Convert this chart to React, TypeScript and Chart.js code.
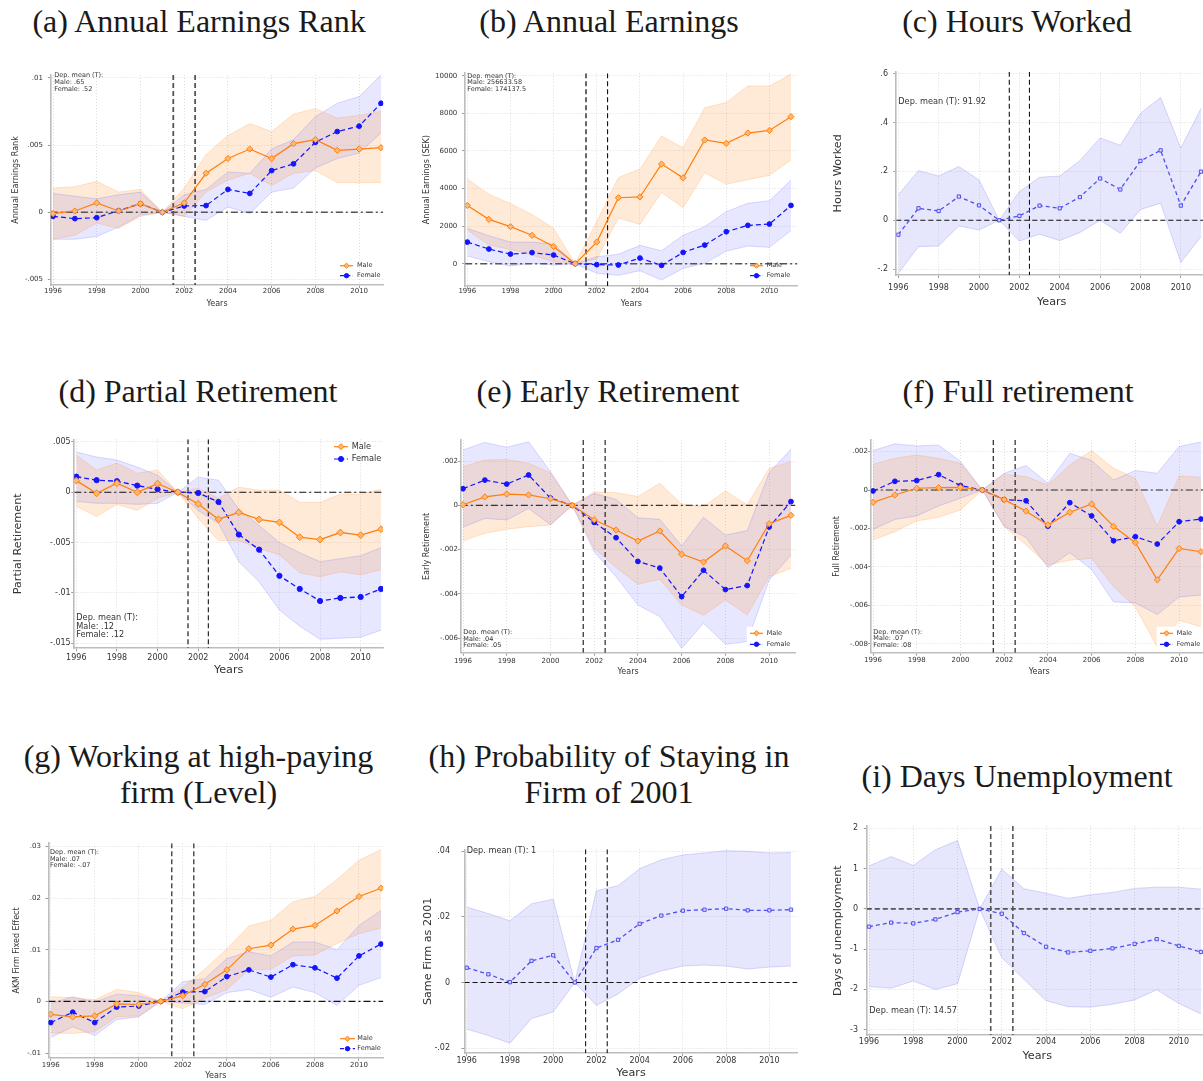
import React, { useEffect, useRef } from "react";
import { Chart, registerables } from "chart.js";

Chart.register(...registerables);
Chart.defaults.font.family = "'DejaVu Sans', sans-serif";

// ---------- shared axes ----------
const YEARS = [1996, 1997, 1998, 1999, 2000, 2001, 2002, 2003, 2004, 2005, 2006, 2007, 2008, 2009, 2010, 2011];
const YEAR_TICKS = [1996, 1998, 2000, 2002, 2004, 2006, 2008, 2010];
const REFORM_LINES = [2001.5, 2002.5];
const X_MIN = 1995.9;

// ---------- (a) Annual earnings rank ----------
const rankMale = [-0.0001, 0.0001, 0.0007, 0.0001, 0.00064, 0, 0.0007, 0.0029, 0.004, 0.0047, 0.004, 0.0051, 0.0054, 0.0046, 0.0047, 0.0048];
const rankMaleHi = [0.0018, 0.0019, 0.0023, 0.0015, 0.0017, 0, 0.0018, 0.0043, 0.0057, 0.0066, 0.006, 0.0073, 0.0077, 0.007, 0.0072, 0.0075];
const rankMaleLo = [-0.002, -0.0017, -0.0008, -0.0012, -0.0003, 0, -0.0003, 0.0015, 0.0024, 0.0029, 0.002, 0.0029, 0.0031, 0.0022, 0.0022, 0.0022];
const rankFemale = [-0.0003, -0.00047, -0.0004, 0.00012, 0.00064, 0, 0.00047, 0.0005, 0.0017, 0.0014, 0.0031, 0.0036, 0.0052, 0.006, 0.0064, 0.0081];
const rankFemaleHi = [0.0014, 0.0012, 0.001, 0.0013, 0.0015, 0, 0.0013, 0.0017, 0.003, 0.0029, 0.0047, 0.0054, 0.0071, 0.0081, 0.0086, 0.0102];
const rankFemaleLo = [-0.002, -0.002, -0.0018, -0.0011, -0.0002, 0, -0.0003, -0.0006, 0.0004, -0.0001, 0.0015, 0.0018, 0.0033, 0.004, 0.0044, 0.0059];
const rankTicks = [-0.005, 0, 0.005, 0.01];
const rankTickLabels = ["-.005", "0", ".005", ".01"];

// ---------- (b) Annual earnings (SEK) ----------
const earnMale = [3100, 2360, 1970, 1510, 920, 0, 1150, 3510, 3550, 5300, 4570, 6580, 6400, 6950, 7090, 7820];
const earnMaleHi = [4500, 3700, 3200, 2620, 1880, 0, 2250, 4590, 5040, 6790, 6170, 8300, 8580, 9450, 9450, 10090];
const earnMaleLo = [1790, 990, 760, 460, 100, 0, 250, 2430, 2090, 3790, 2980, 4840, 4220, 4470, 4700, 5510];
const earnFemale = [1150, 780, 510, 590, 460, 0, -50, -70, 300, -90, 600, 990, 1700, 2040, 2110, 3100];
const earnFemaleHi = [1880, 1490, 1150, 1150, 1030, 0, 370, 500, 975, 690, 1510, 1970, 2770, 3210, 3350, 4450];
const earnFemaleLo = [410, 110, -120, 20, -70, 0, -510, -620, -370, -870, -250, 20, 670, 940, 870, 1760];
const earnTicks = [0, 2000, 4000, 6000, 8000, 10000];
const earnTickLabels = ["0", "2000", "4000", "6000", "8000", "10000"];

// ---------- (c) Hours worked ----------
const hoursPoint = [-0.059, 0.049, 0.038, 0.097, 0.061, 0, 0.018, 0.06, 0.049, 0.095, 0.171, 0.126, 0.243, 0.286, 0.06, 0.199];
const hoursHi = [0.104, 0.203, 0.181, 0.22, 0.165, 0, 0.117, 0.176, 0.181, 0.244, 0.337, 0.307, 0.438, 0.502, 0.295, 0.458];
const hoursLo = [-0.217, -0.108, -0.105, -0.023, -0.04, 0, -0.085, -0.057, -0.083, -0.05, 0.0, -0.053, 0.044, 0.07, -0.173, -0.067];
const hoursTicks = [-0.2, 0, 0.2, 0.4, 0.6];
const hoursTickLabels = ["-.2", "0", ".2", ".4", ".6"];

// ---------- (d) Partial retirement ----------
const partialMale = [0.00116, -0.0001, 0.0009, 0.0, 0.00086, 0, -0.00116, -0.00268, -0.002, -0.0027, -0.003, -0.00446, -0.0047, -0.004, -0.00426, -0.00367];
const partialMaleHi = [0.0037, 0.0022, 0.0029, 0.0019, 0.0022, 0, 0.0004, -0.0006, 0.0005, 0.0002, 0.0002, -0.001, -0.001, -0.0002, -0.0002, 0.0003];
const partialMaleLo = [-0.0014, -0.0024, -0.0012, -0.0018, -0.0006, 0, -0.0026, -0.0048, -0.0048, -0.0056, -0.0062, -0.008, -0.0084, -0.0079, -0.0082, -0.0077];
const partialFemale = [0.00155, 0.0012, 0.0011, 0.00066, 0.0003, 0, -0.00007, -0.00096, -0.0042, -0.0057, -0.0083, -0.0096, -0.0108, -0.0105, -0.0104, -0.0096];
const partialFemaleHi = [0.004, 0.0035, 0.0032, 0.0025, 0.0017, 0, 0.0015, 0.0012, -0.0017, -0.0033, -0.005, -0.006, -0.0069, -0.0066, -0.0063, -0.0055];
const partialFemaleLo = [-0.0009, -0.0011, -0.0011, -0.0012, -0.0011, 0, -0.0018, -0.0031, -0.0069, -0.0089, -0.0117, -0.0133, -0.0146, -0.0145, -0.0144, -0.0137];
const partialTicks = [-0.015, -0.01, -0.005, 0, 0.005];
const partialTickLabels = ["-.015", "-.01", "-.005", "0", ".005"];

// ---------- (e) Early retirement ----------
const earlyMale = [0.00003, 0.00038, 0.00051, 0.00047, 0.0003, 0, -0.00065, -0.00111, -0.00161, -0.00116, -0.0022, -0.00256, -0.00183, -0.0025, -0.00083, -0.00045];
const earlyMaleHi = [0.00174, 0.00205, 0.00207, 0.0019, 0.00147, 0, 0.0006, 0.00057, 0.0004, 0.001, 0.00006, -0.00006, 0.00065, 0.00002, 0.00167, 0.00197];
const earlyMaleLo = [-0.0016, -0.00126, -0.00108, -0.00096, -0.00089, 0, -0.00194, -0.0028, -0.00356, -0.00334, -0.0045, -0.00496, -0.00427, -0.00495, -0.00322, -0.00284];
const earlyFemale = [0.00075, 0.00114, 0.00096, 0.00137, 0.00033, 0, -0.00077, -0.00146, -0.00253, -0.00283, -0.00412, -0.00293, -0.0038, -0.00362, -0.00098, 0.00017];
const earlyFemaleHi = [0.0025, 0.00284, 0.00262, 0.00287, 0.00152, 0, 0.00054, 0.00027, -0.00056, -0.00063, -0.00183, -0.00054, -0.00134, -0.00114, 0.00147, 0.00254];
const earlyFemaleLo = [-0.00099, -0.00059, -0.00066, -0.00014, -0.00087, 0, -0.00209, -0.00322, -0.0045, -0.00502, -0.00645, -0.00532, -0.00627, -0.00615, -0.00337, -0.00224];
const earlyTicks = [-0.006, -0.004, -0.002, 0, 0.002];
const earlyTickLabels = ["-.006", "-.004", "-.002", "0", ".002"];

// ---------- (f) Full retirement ----------
const fullMale = [-0.00064, -0.00026, 0.00009, 0.00012, 0.00014, 0, -0.0005, -0.0011, -0.00182, -0.00116, -0.00073, -0.00189, -0.00274, -0.00467, -0.00304, -0.00321];
const fullMaleHi = [0.00134, 0.00165, 0.00182, 0.00165, 0.00139, 0, 0.00082, 0.0007, 0.00026, 0.0013, 0.00205, 0.00113, 0.00061, -0.00187, 0.00073, 0.00066];
const fullMaleLo = [-0.0026, -0.00217, -0.00161, -0.00142, -0.00104, 0, -0.00191, -0.00286, -0.0039, -0.00365, -0.00356, -0.00503, -0.00608, -0.00816, -0.00677, -0.00712];
const fullFemale = [-0.00005, 0.00045, 0.00049, 0.0008, 0.00023, 0, -0.0005, -0.00056, -0.00188, -0.00066, -0.00135, -0.00264, -0.00243, -0.00281, -0.00165, -0.00151];
const fullFemaleHi = [0.00205, 0.0024, 0.00229, 0.00234, 0.00148, 0, 0.00087, 0.00127, 0.00035, 0.00191, 0.00153, 0.00052, 0.00101, 0.00087, 0.00226, 0.0025];
const fullFemaleLo = [-0.00205, -0.00153, -0.00135, -0.00083, -0.00043, 0, -0.00188, -0.00247, -0.00403, -0.00326, -0.00413, -0.00582, -0.00587, -0.00648, -0.00556, -0.00547];
const fullTicks = [-0.008, -0.006, -0.004, -0.002, 0, 0.002];
const fullTickLabels = ["-.008", "-.006", "-.004", "-.002", "0", ".002"];

// ---------- (g) AKM firm fixed effect ----------
const akmMale = [-0.0025, -0.003, -0.0028, -0.0005, -0.0006, 0, 0.0011, 0.0033, 0.0061, 0.0102, 0.0109, 0.014, 0.0147, 0.0175, 0.0203, 0.0219];
const akmMaleHi = [0.0009, 0.0007, 0.0003, 0.0023, 0.0017, 0, 0.0028, 0.0062, 0.0102, 0.0146, 0.0157, 0.0193, 0.0203, 0.0236, 0.0273, 0.0294];
const akmMaleLo = [-0.0061, -0.0062, -0.0059, -0.003, -0.0028, 0, -0.0014, 0.0006, 0.0023, 0.0061, 0.0062, 0.0088, 0.009, 0.0112, 0.0131, 0.0142];
const akmFemale = [-0.0041, -0.0021, -0.0041, -0.0011, -0.0009, 0, 0.0018, 0.0019, 0.0048, 0.0061, 0.0047, 0.0071, 0.0065, 0.0045, 0.0088, 0.0111];
const akmFemaleHi = [-0.0004, 0.0009, -0.0001, 0.0014, 0.0011, 0, 0.0038, 0.0044, 0.0083, 0.0096, 0.0088, 0.0115, 0.0115, 0.01, 0.0147, 0.0176];
const akmFemaleLo = [-0.007, -0.0049, -0.0066, -0.0035, -0.003, 0, -0.0003, -0.0006, 0.0017, 0.0023, 0.0008, 0.0028, 0.0017, -0.0008, 0.0031, 0.0046];
const akmTicks = [-0.01, 0, 0.01, 0.02, 0.03];
const akmTickLabels = ["-.01", "0", ".01", ".02", ".03"];

// ---------- (h) Same firm as 2001 ----------
const stayPoint = [0.0045, 0.0025, 0.0001, 0.0066, 0.0083, 0, 0.0105, 0.013, 0.0179, 0.0204, 0.0219, 0.0222, 0.0225, 0.022, 0.022, 0.0222];
const stayHi = [0.023, 0.021, 0.0188, 0.024, 0.0254, 0, 0.028, 0.0295, 0.0347, 0.0374, 0.0389, 0.0395, 0.0402, 0.04, 0.0395, 0.0396];
const stayLo = [-0.0142, -0.0162, -0.0185, -0.011, -0.009, 0, -0.007, -0.0035, 0.0013, 0.0035, 0.005, 0.0053, 0.005, 0.0041, 0.0047, 0.005];
const stayTicks = [-0.02, 0, 0.02, 0.04];
const stayTickLabels = ["-.02", "0", ".02", ".04"];

// ---------- (i) Days of unemployment ----------
const unempPoint = [-0.44, -0.34, -0.36, -0.26, -0.08, 0, -0.12, -0.6, -0.94, -1.08, -1.04, -0.98, -0.87, -0.75, -0.92, -1.07];
const unempHi = [1.07, 1.3, 1.08, 1.47, 1.7, 0, 0.99, 0.5, 0.39, 0.26, 0.35, 0.41, 0.51, 0.54, 0.54, 0.49];
const unempLo = [-1.93, -1.97, -1.79, -2.0, -1.86, 0, -1.21, -1.75, -2.28, -2.43, -2.44, -2.37, -2.26, -2.01, -2.35, -2.61];
const unempTicks = [-3, -2, -1, 0, 1, 2];
const unempTickLabels = ["-3", "-2", "-1", "0", "1", "2"];

// ---------- styling ----------
type Kind = "male" | "female" | "single";
interface Series { label: string; kind: Kind; mid: number[]; hi: number[]; lo: number[]; }
interface RefStyle { color: string; width: number; dash: number[]; }
interface Panel {
  title: string[]; titleCx: number; titleBase: number; big: boolean;
  x96: number; x11: number; xMax: number; top: number; bottom: number;
  yMin: number; yMax: number; yTicks: number[]; yLabels: string[];
  yTitle: string; yTitleCx: number; yTickRight: number; xTickCy: number; xTitleCy: number;
  series: Series[]; zero: RefStyle; vlines: RefStyle[];
  note: { lines: string[]; x: number; y: number; step: number };
  legend?: { x: number; y: number; step: number; len: number; textX: number; box?: number[] };
}

const KIND_STYLE: Record<Kind, { line: string; band: string; edge: string; dash: number[]; point: string; fill: string }> = {
  male: { line: "#ff7f0e", band: "rgba(255,127,14,0.16)", edge: "rgba(255,150,60,0.3)", dash: [], point: "rectRot", fill: "#ffb870" },
  female: { line: "#1414ff", band: "rgba(70,70,255,0.13)", edge: "rgba(110,110,255,0.3)", dash: [5, 3], point: "circle", fill: "#1414ff" },
  single: { line: "#5050ee", band: "rgba(100,100,240,0.16)", edge: "rgba(120,120,240,0.35)", dash: [4, 3], point: "rect", fill: "#d8d8ff" },
};

const SIZES = {
  small: { tick: 7, axisTitle: 8, note: 6.5 },
  big: { tick: 8, axisTitle: 11.2, note: 8.2 },
};

const DASHDOT = [7, 3, 2, 3];
const DASHED = [5, 3];

const sexSeries = (mid: number[], hi: number[], lo: number[], fmid: number[], fhi: number[], flo: number[]): Series[] => [
  { label: "Male", kind: "male", mid, hi, lo },
  { label: "Female", kind: "female", mid: fmid, hi: fhi, lo: flo },
];

const PANELS: Panel[] = [
  {
    title: ["(a) Annual Earnings Rank"], titleCx: 199, titleBase: 32.3, big: false,
    x96: 53, x11: 381, xMax: 2011.1, top: 75, bottom: 285, yMin: -0.0054, yMax: 0.0102,
    yTicks: rankTicks, yLabels: rankTickLabels, yTitle: "Annual Earnings Rank", yTitleCx: 16, yTickRight: 43,
    xTickCy: 291, xTitleCy: 304,
    series: sexSeries(rankMale, rankMaleHi, rankMaleLo, rankFemale, rankFemaleHi, rankFemaleLo),
    zero: { color: "#555", width: 1.5, dash: DASHDOT },
    vlines: [{ color: "#555", width: 1.8, dash: DASHED }, { color: "#555", width: 1.8, dash: DASHED }],
    note: { lines: ["Dep. mean (T):", "Male: .65", "Female: .52"], x: 54.3, y: 75.7, step: 6.8 },
    legend: { x: 340, y: 265.7, step: 10, len: 13, textX: 357 },
  },
  {
    title: ["(b) Annual Earnings"], titleCx: 609, titleBase: 32.3, big: false,
    x96: 467.3, x11: 791, xMax: 2011.3, top: 73.3, bottom: 286, yMin: -1186, yMax: 10128,
    yTicks: earnTicks, yLabels: earnTickLabels, yTitle: "Annual Earnings (SEK)", yTitleCx: 426.7, yTickRight: 457.3,
    xTickCy: 291, xTitleCy: 304.3,
    series: sexSeries(earnMale, earnMaleHi, earnMaleLo, earnFemale, earnFemaleHi, earnFemaleLo),
    zero: { color: "#555", width: 1.5, dash: DASHDOT },
    vlines: [{ color: "#555", width: 1.8, dash: DASHED }, { color: "#111", width: 1.1, dash: DASHED }],
    note: { lines: ["Dep. mean (T):", "Male: 256633.58", "Female: 174137.5"], x: 467.3, y: 76, step: 6.7 },
    legend: { x: 750, y: 265.7, step: 10, len: 13, textX: 766.7 },
  },
  {
    title: ["(c) Hours Worked"], titleCx: 1017, titleBase: 32.3, big: true,
    x96: 898.3, x11: 1201, xMax: 2011.3, top: 71.7, bottom: 275, yMin: -0.224, yMax: 0.608,
    yTicks: hoursTicks, yLabels: hoursTickLabels, yTitle: "Hours Worked", yTitleCx: 838, yTickRight: 888,
    xTickCy: 288, xTitleCy: 302,
    series: [{ label: "", kind: "single", mid: hoursPoint, hi: hoursHi, lo: hoursLo }],
    zero: { color: "#111", width: 1.1, dash: DASHED },
    vlines: [{ color: "#111", width: 1.1, dash: DASHED }, { color: "#111", width: 1.1, dash: DASHED }],
    note: { lines: ["Dep. mean (T): 91.92"], x: 898.3, y: 102.3, step: 0 },
  },
  {
    title: ["(d) Partial Retirement"], titleCx: 198, titleBase: 402.3, big: true,
    x96: 76.3, x11: 381, xMax: 2011.1, top: 439.3, bottom: 648.3, yMin: -0.0155, yMax: 0.00526,
    yTicks: partialTicks, yLabels: partialTickLabels, yTitle: "Partial Retirement", yTitleCx: 18, yTickRight: 70.7,
    xTickCy: 657.7, xTitleCy: 670,
    series: sexSeries(partialMale, partialMaleHi, partialMaleLo, partialFemale, partialFemaleHi, partialFemaleLo),
    zero: { color: "#111", width: 1.1, dash: DASHDOT },
    vlines: [{ color: "#555", width: 1.6, dash: DASHED }, { color: "#111", width: 1.1, dash: DASHED }],
    note: { lines: ["Dep. mean (T):", "Male: .12", "Female: .12"], x: 76.3, y: 617.7, step: 8.7 },
    legend: { x: 334, y: 446.7, step: 12.3, len: 14, textX: 351.7 },
  },
  {
    title: ["(e) Early Retirement"], titleCx: 608, titleBase: 402.3, big: false,
    x96: 463, x11: 791, xMax: 2011.2, top: 440, bottom: 652.7, yMin: -0.00665, yMax: 0.00295,
    yTicks: earlyTicks, yLabels: earlyTickLabels, yTitle: "Early Retirement", yTitleCx: 427, yTickRight: 458,
    xTickCy: 660.7, xTitleCy: 671.7,
    series: sexSeries(earlyMale, earlyMaleHi, earlyMaleLo, earlyFemale, earlyFemaleHi, earlyFemaleLo),
    zero: { color: "#333", width: 1.2, dash: DASHDOT },
    vlines: [{ color: "#444", width: 1.4, dash: DASHED }, { color: "#111", width: 1.1, dash: DASHED }],
    note: { lines: ["Dep. mean (T):", "Male: .04", "Female: .05"], x: 463.3, y: 632.3, step: 6.7 },
    legend: { x: 750, y: 633.3, step: 11, len: 13, textX: 766.7, box: [746.7, 626.7, 795, 650] },
  },
  {
    title: ["(f) Full retirement"], titleCx: 1018, titleBase: 402.3, big: false,
    x96: 873, x11: 1201, xMax: 2011.3, top: 440, bottom: 652.7, yMin: -0.00846, yMax: 0.0026,
    yTicks: fullTicks, yLabels: fullTickLabels, yTitle: "Full Retirement", yTitleCx: 837, yTickRight: 868,
    xTickCy: 660, xTitleCy: 671.7,
    series: sexSeries(fullMale, fullMaleHi, fullMaleLo, fullFemale, fullFemaleHi, fullFemaleLo),
    zero: { color: "#666", width: 1.6, dash: DASHDOT },
    vlines: [{ color: "#111", width: 1.1, dash: DASHED }, { color: "#111", width: 1.1, dash: DASHED }],
    note: { lines: ["Dep. mean (T):", "Male: .07", "Female: .08"], x: 873.3, y: 632, step: 6.7 },
    legend: { x: 1160, y: 633.3, step: 11, len: 13, textX: 1176.7, box: [1156.7, 626.7, 1205, 650] },
  },
  {
    title: ["(g) Working at high-paying", "firm (Level)"], titleCx: 198.5, titleBase: 767.7, big: false,
    x96: 50.7, x11: 381, xMax: 2011.1, top: 843.3, bottom: 1057.7, yMin: -0.0109, yMax: 0.0306,
    yTicks: akmTicks, yLabels: akmTickLabels, yTitle: "AKM Firm Fixed Effect", yTitleCx: 17, yTickRight: 41,
    xTickCy: 1065, xTitleCy: 1076,
    series: sexSeries(akmMale, akmMaleHi, akmMaleLo, akmFemale, akmFemaleHi, akmFemaleLo),
    zero: { color: "#111", width: 1.1, dash: DASHDOT },
    vlines: [{ color: "#111", width: 1.1, dash: DASHED }, { color: "#111", width: 1.1, dash: DASHED }],
    note: { lines: ["Dep. mean (T):", "Male: .07", "Female: -.07"], x: 50, y: 852.7, step: 6.3 },
    legend: { x: 340, y: 1038.7, step: 10, len: 15, textX: 357.3 },
  },
  {
    title: ["(h) Probability of Staying in", "Firm of 2001"], titleCx: 609, titleBase: 767.7, big: true,
    x96: 466.7, x11: 791, xMax: 2011.3, top: 845, bottom: 1053.3, yMin: -0.0216, yMax: 0.0406,
    yTicks: stayTicks, yLabels: stayTickLabels, yTitle: "Same Firm as 2001", yTitleCx: 428, yTickRight: 450,
    xTickCy: 1061, xTitleCy: 1073.3,
    series: [{ label: "", kind: "single", mid: stayPoint, hi: stayHi, lo: stayLo }],
    zero: { color: "#111", width: 1.1, dash: DASHED },
    vlines: [{ color: "#111", width: 1.1, dash: DASHED }, { color: "#111", width: 1.1, dash: DASHED }],
    note: { lines: ["Dep. mean (T): 1"], x: 466.7, y: 851.3, step: 0 },
  },
  {
    title: ["(i) Days Unemployment"], titleCx: 1017, titleBase: 788, big: true,
    x96: 869, x11: 1201, xMax: 2011.3, top: 826, bottom: 1035.3, yMin: -3.14, yMax: 2.06,
    yTicks: unempTicks, yLabels: unempTickLabels, yTitle: "Days of unemployment", yTitleCx: 838, yTickRight: 858,
    xTickCy: 1042, xTitleCy: 1056,
    series: [{ label: "", kind: "single", mid: unempPoint, hi: unempHi, lo: unempLo }],
    zero: { color: "#555", width: 1.6, dash: DASHED },
    vlines: [{ color: "#555", width: 1.6, dash: DASHED }, { color: "#555", width: 1.6, dash: DASHED }],
    note: { lines: ["Dep. mean (T): 14.57"], x: 869.3, y: 1011, step: 0 },
  },
];

// ---------- geometry ----------
const TICK_LEN = 3;
const PAD_TOP = 12;
const PAD_RIGHT = 14;

function geometry(p: Panel) {
  const sz = p.big ? SIZES.big : SIZES.small;
  const ppy = (p.x11 - p.x96) / 15;
  const l = p.x96 + (X_MIN - 1996) * ppy;
  const r = p.x96 + (p.xMax - 1996) * ppy;
  const titleLH = sz.axisTitle * 1.2;
  const left = Math.round(p.yTitleCx - titleLH / 2);
  const top = Math.round(p.top - PAD_TOP);
  const w = Math.ceil(r + PAD_RIGHT - left);
  const h = Math.round(p.xTitleCy + titleLH / 2 - top);
  return {
    left, top, w, h,
    padTop: p.top - top,
    padRight: w - (r - left),
    yWidth: l - left,
    xHeight: h - (p.bottom - top),
    yPad: l - TICK_LEN - p.yTickRight,
    xPad: p.xTickCy - p.bottom - TICK_LEN - sz.tick * 0.6,
  };
}

function markerPath(ctx: CanvasRenderingContext2D, kind: Kind, x: number, y: number, r: number) {
  ctx.beginPath();
  if (kind === "male") {
    ctx.moveTo(x, y - r); ctx.lineTo(x + r, y); ctx.lineTo(x, y + r); ctx.lineTo(x - r, y); ctx.closePath();
  } else if (kind === "female") {
    ctx.arc(x, y, r * 0.85, 0, Math.PI * 2);
  } else {
    ctx.rect(x - r * 0.7, y - r * 0.7, r * 1.4, r * 1.4);
  }
}

function decorPlugin(p: Panel, g: ReturnType<typeof geometry>) {
  const sz = p.big ? SIZES.big : SIZES.small;
  return {
    id: "panelDecor",
    beforeDatasetsDraw(chart: any) {
      const { ctx, chartArea, scales } = chart;
      const xs = scales.x, ys = scales.y;
      ctx.save();
      ctx.beginPath();
      ctx.rect(chartArea.left, chartArea.top, chartArea.right - chartArea.left, chartArea.bottom - chartArea.top);
      ctx.clip();
      const y0 = ys.getPixelForValue(0);
      ctx.setLineDash(p.zero.dash);
      ctx.strokeStyle = p.zero.color;
      ctx.lineWidth = p.zero.width;
      ctx.beginPath();
      ctx.moveTo(chartArea.left, y0);
      ctx.lineTo(chartArea.right, y0);
      ctx.stroke();
      REFORM_LINES.forEach((v, i) => {
        const st = p.vlines[i];
        const px = xs.getPixelForValue(v);
        ctx.setLineDash(st.dash);
        ctx.strokeStyle = st.color;
        ctx.lineWidth = st.width;
        ctx.beginPath();
        ctx.moveTo(px, chartArea.top);
        ctx.lineTo(px, chartArea.bottom);
        ctx.stroke();
      });
      ctx.restore();
    },
    afterDraw(chart: any) {
      const ctx: CanvasRenderingContext2D = chart.ctx;
      ctx.save();
      ctx.fillStyle = "#333";
      ctx.textBaseline = "middle";
      ctx.textAlign = "left";
      ctx.font = `${sz.note}px 'DejaVu Sans', sans-serif`;
      p.note.lines.forEach((t, i) => {
        ctx.fillText(t, p.note.x - g.left, p.note.y - g.top + i * p.note.step);
      });
      const lg = p.legend;
      if (lg) {
        if (lg.box) {
          ctx.fillStyle = "#fff";
          ctx.fillRect(lg.box[0] - g.left, lg.box[1] - g.top, lg.box[2] - lg.box[0], lg.box[3] - lg.box[1]);
        }
        p.series.forEach((s, i) => {
          const st = KIND_STYLE[s.kind];
          const x0 = lg.x - g.left;
          const y = lg.y - g.top + i * lg.step;
          ctx.setLineDash(st.dash.map((d) => d * 0.8));
          ctx.strokeStyle = st.line;
          ctx.lineWidth = 1.2;
          ctx.beginPath();
          ctx.moveTo(x0, y);
          ctx.lineTo(x0 + lg.len, y);
          ctx.stroke();
          ctx.setLineDash([]);
          markerPath(ctx, s.kind, x0 + lg.len / 2, y, p.big ? 3 : 2.6);
          ctx.fillStyle = st.fill;
          ctx.fill();
          ctx.lineWidth = 1;
          ctx.strokeStyle = st.line;
          ctx.stroke();
          ctx.fillStyle = "#333";
          ctx.font = `${sz.note}px 'DejaVu Sans', sans-serif`;
          ctx.fillText(s.label, lg.textX - g.left, y);
        });
      }
      ctx.restore();
    },
  };
}

function buildConfig(p: Panel, g: ReturnType<typeof geometry>): any {
  const sz = p.big ? SIZES.big : SIZES.small;
  const toPts = (arr: number[]) => YEARS.map((x, i) => ({ x, y: arr[i] }));
  const datasets: any[] = [];
  p.series.forEach((s) => {
    const st = KIND_STYLE[s.kind];
    const loIndex = datasets.length;
    datasets.push({ data: toPts(s.lo), borderColor: st.edge, borderWidth: 0.8, pointRadius: 0, fill: false, order: 2 });
    datasets.push({ data: toPts(s.hi), borderColor: st.edge, borderWidth: 0.8, pointRadius: 0, fill: loIndex, backgroundColor: st.band, order: 2 });
  });
  p.series.forEach((s) => {
    const st = KIND_STYLE[s.kind];
    datasets.push({
      data: toPts(s.mid),
      borderColor: st.line,
      borderWidth: p.big ? 1.3 : 1.2,
      borderDash: st.dash,
      pointStyle: st.point,
      pointRadius: s.kind === "male" ? (p.big ? 3.4 : 3.1) : s.kind === "female" ? (p.big ? 2.6 : 2.4) : 2.3,
      pointBackgroundColor: st.fill,
      pointBorderColor: st.line,
      pointBorderWidth: 1,
      fill: false,
      tension: 0,
      order: 1,
    });
  });

  const grid = { color: "#dddddd", lineWidth: 1, drawTicks: true, tickLength: TICK_LEN, tickColor: "#999", tickBorderDash: [] };
  const border = { display: true, color: "#bdbdbd", width: 1.6, dash: [1, 2] };
  const tickFont = { size: sz.tick };
  const titleFont = { size: sz.axisTitle };

  return {
    type: "line",
    data: { datasets },
    plugins: [decorPlugin(p, g)],
    options: {
      responsive: false,
      animation: false,
      events: [],
      layout: { padding: { top: g.padTop, right: g.padRight, left: 0, bottom: 0 } },
      plugins: {
        legend: { display: false },
        tooltip: { enabled: false },
        filler: { drawTime: "beforeDatasetsDraw", propagate: false },
      },
      scales: {
        x: {
          type: "linear",
          min: X_MIN,
          max: p.xMax,
          afterBuildTicks: (s: any) => { s.ticks = YEAR_TICKS.map((v) => ({ value: v })); },
          afterFit: (s: any) => { s.height = g.xHeight; },
          ticks: { font: tickFont, color: "#333", padding: g.xPad, autoSkip: false, maxRotation: 0, callback: (v: any) => String(v) },
          grid,
          border,
          title: { display: true, text: "Years", font: titleFont, color: "#333", padding: 0 },
        },
        y: {
          type: "linear",
          min: p.yMin,
          max: p.yMax,
          afterBuildTicks: (s: any) => { s.ticks = p.yTicks.map((v) => ({ value: v })); },
          afterFit: (s: any) => { s.width = g.yWidth; },
          ticks: { font: tickFont, color: "#333", padding: g.yPad, autoSkip: false, callback: (_v: any, i: number) => p.yLabels[i] },
          grid,
          border,
          title: { display: true, text: p.yTitle, font: titleFont, color: "#333", padding: 0 },
        },
      },
    },
  };
}

function PanelChart({ p }: { p: Panel }) {
  const ref = useRef<HTMLCanvasElement | null>(null);
  const g = geometry(p);
  useEffect(() => {
    if (!ref.current) return;
    const chart = new Chart(ref.current, buildConfig(p, g));
    return () => chart.destroy();
  }, []);
  return (
    <canvas
      ref={ref}
      width={g.w}
      height={g.h}
      style={{ position: "absolute", left: g.left, top: g.top, width: g.w, height: g.h }}
    />
  );
}

const TITLE_SIZE = 32;
const TITLE_LH = 35.6;

function PanelTitle({ p }: { p: Panel }) {
  return (
    <div
      style={{
        position: "absolute",
        left: p.titleCx - 250,
        width: 500,
        top: p.titleBase - 28.6,
        textAlign: "center",
        fontFamily: "'Liberation Serif', 'Times New Roman', serif",
        fontSize: TITLE_SIZE,
        lineHeight: `${TITLE_LH}px`,
        color: "#1a1a1a",
        whiteSpace: "nowrap",
      }}
    >
      {p.title.map((t, i) => (
        <div key={i}>{t}</div>
      ))}
    </div>
  );
}

export default function App() {
  return (
    <div style={{ position: "absolute", left: 0, top: 0, width: 1203, height: 1081, overflow: "hidden", background: "#fff" }}>
      {PANELS.map((p, i) => (
        <PanelChart key={`c${i}`} p={p} />
      ))}
      {PANELS.map((p, i) => (
        <PanelTitle key={`t${i}`} p={p} />
      ))}
    </div>
  );
}
